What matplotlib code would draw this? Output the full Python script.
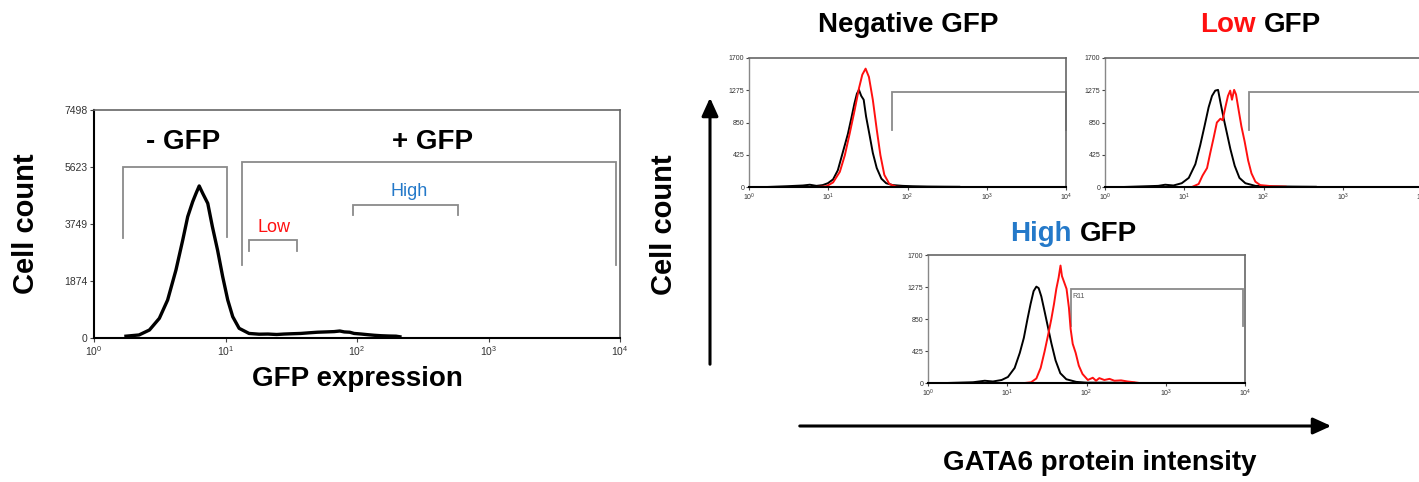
import matplotlib
matplotlib.use("Agg")
import matplotlib.pyplot as plt

plt.rcParams['font.family'] = ['Liberation Sans', 'DejaVu Sans']
plt.rcParams['mathtext.default'] = 'regular'

# GFP expression histogram (sorting panel)
gfp_x = [1.75, 2.2, 2.64, 3.14, 3.63, 4.2, 4.73, 5.16, 5.63, 5.97, 6.31, 6.71, 7.33, 7.95,
         8.7, 9.52, 10.4, 11.35, 12.7, 15.1, 18, 21, 24.5, 27.9, 32, 37.4, 43, 50, 58, 67,
         74, 80, 88, 95, 108, 120, 135, 152, 175, 198, 212]
gfp_y = [60, 100, 263, 647, 1250, 2236, 3222, 3990, 4483, 4757, 5000, 4757, 4428, 3660,
         2893, 2016, 1250, 700, 318, 150, 125, 130, 115, 130, 140, 150, 170, 190, 200, 210,
         230, 200, 190, 150, 130, 110, 90, 75, 65, 60, 40]
gfp_ticks = [0, 1874, 3749, 5623, 7498]

# sort gates: (x0, x1, top, left drop, right drop)
gate_neg = (1.67, 10.2, 5615, 3280, 3320)
gate_pos = (13.3, 9300, 5800, 2400, 2400)
gate_low = (15.2, 35, 3230, 2870, 2870)
gate_high = (93, 585, 4380, 4060, 4060)

# GATA6 intensity histograms, black = control, red = sorted population
neg_ctrl_x = [1.67, 2.98, 4.8, 5.85, 7.1, 8.5, 9.9, 11.5, 13.2, 15.2, 17.7, 19.5, 21.4, 23,
              24.4, 26.1, 28, 30, 33, 36.5, 40.9, 46.8, 53.8, 65, 87, 117, 180, 300, 450]
neg_ctrl_y = [0, 10, 20, 30, 15, 25, 50, 100, 220, 450, 700, 900, 1100, 1230,
              1280, 1200, 1150, 930, 700, 450, 250, 110, 50, 25, 15, 10, 6, 4, 3]
neg_gfp_x = [7.1, 9.5, 11.5, 14, 16.2, 18.6, 21.4, 24.4, 26.9, 29.6, 32.6, 36.5, 41, 45.5,
             51, 59, 72, 87]
neg_gfp_y = [0, 10, 60, 200, 420, 700, 1000, 1300, 1480, 1560, 1450, 1150, 750, 420,
             160, 40, 5, 0]

low_ctrl_x = [1.7, 2.4, 4.7, 5.75, 7.3, 9.3, 11.4, 13.8, 15.9, 18, 20.3, 22.4, 24.6, 26.7,
              28.8, 31.5, 34.7, 38.2, 43.3, 49.7, 59, 79, 130, 250, 457]
low_ctrl_y = [0, 5, 15, 30, 20, 50, 120, 300, 550, 800, 1050, 1200, 1270, 1280,
              1100, 900, 700, 500, 280, 120, 50, 15, 8, 5, 3]
low_gfp_x = [12.5, 15.2, 17, 19.4, 21.3, 23.5, 25.8, 28.6, 30.5, 33, 35.6, 38, 40, 42.6,
             45, 48.8, 52.6, 57.8, 64, 70.5, 79, 91, 129, 190]
low_gfp_y = [0, 40, 150, 250, 450, 650, 850, 900, 880, 1050, 1200, 1270, 1150, 1280,
             1220, 1000, 800, 600, 350, 180, 70, 25, 10, 5]

high_ctrl_x = [1.72, 3.7, 5.2, 6.6, 8.5, 10.2, 12.4, 14.4, 16.2, 18, 19.7, 21.5, 23.3, 24.9,
               26.9, 29.6, 32.5, 36, 40.7, 46.7, 55.6, 74, 99, 200, 400]
high_ctrl_y = [0, 10, 30, 20, 40, 80, 200, 400, 600, 850, 1050, 1220, 1280, 1260,
               1150, 950, 750, 530, 300, 130, 50, 15, 5, 4, 2]
high_gfp_x = [16.6, 20, 23.3, 26.4, 29.6, 32.5, 36, 38.9, 41.6, 44.5, 47, 49, 52.6, 56,
              60, 63, 67, 73, 80, 89, 104, 120, 132, 145, 168, 195, 225, 273, 330, 400, 465]
high_gfp_y = [0, 10, 60, 200, 420, 620, 850, 1050, 1250, 1400, 1560, 1420, 1330, 1250,
              1000, 720, 520, 400, 230, 120, 40, 70, 30, 65, 40, 55, 30, 35, 20, 10, 0]

gata_ticks = [0, 425, 850, 1275, 1700]
decades = [1, 10, 100, 1000, 10000]
decade_labels = ['$10^{%d}$' % i for i in range(5)]

RED = '#ff1010'
BLUE = '#2479c9'
GATE = '#8a8a8a'

W, H = 1419, 482
fig = plt.figure(figsize=(W / 100, H / 100), dpi=100)


def px_axes(x0, x1, y0, y1):
    # axes box given in pixel coordinates (top-left origin)
    return fig.add_axes([x0 / W, (H - y1) / H, (x1 - x0) / W, (y1 - y0) / H])


def gate(ax, g):
    x0, x1, top, d0, d1 = g
    ax.plot([x0, x0, x1, x1], [d0, top, top, d1], color=GATE, lw=1.3,
            clip_on=False, solid_joinstyle='miter')


def style_axes(ax, yticks, fs, ticklen, dark_frame):
    ax.set_xscale('log')
    ax.set_xlim(1, 10000)
    ax.set_ylim(0, yticks[-1])
    ax.set_xticks(decades)
    ax.set_xticklabels(decade_labels)
    ax.minorticks_off()
    ax.set_yticks(yticks)
    ax.set_yticklabels([str(t) for t in yticks])
    ax.tick_params(labelsize=fs, length=ticklen, width=0.8, pad=1.5,
                   colors='#444444', labelcolor='#333333')
    for s in ['top', 'right']:
        ax.spines[s].set_color('#666666')
        ax.spines[s].set_linewidth(1.2)
    ax.spines['left'].set_color('black' if dark_frame else '#888888')
    ax.spines['bottom'].set_color('black')
    ax.spines['left'].set_linewidth(1.5 if dark_frame else 1.0)
    ax.spines['bottom'].set_linewidth(1.5)


# left panel: GFP sorting
ax = px_axes(94, 620, 110, 338)
ax.plot(gfp_x, gfp_y, color='black', lw=2.4)
style_axes(ax, gfp_ticks, 7.5, 3, True)
for g in [gate_neg, gate_pos, gate_low, gate_high]:
    gate(ax, g)
ax.text(4.8, 6440, '- GFP', fontsize=20, fontweight='bold', ha='center', va='center')
ax.text(377, 6440, '+ GFP', fontsize=20, fontweight='bold', ha='center', va='center')
ax.text(23.4, 3650, 'Low', fontsize=13, color=RED, ha='center', va='center')
ax.text(250, 4830, 'High', fontsize=13, color=BLUE, ha='center', va='center')
ax.set_xlabel('GFP expression', fontsize=20, fontweight='bold', labelpad=6)
ax.set_ylabel('Cell count', fontsize=21, fontweight='bold', labelpad=18)

# right panels: GATA6 intensity
panels = [
    ((749, 1066, 58, 187), neg_ctrl_x, neg_ctrl_y, neg_gfp_x, neg_gfp_y, (63, 10000, 1252, 751, 751)),
    ((1105, 1422, 58, 187), low_ctrl_x, low_ctrl_y, low_gfp_x, low_gfp_y, (66, 10000, 1252, 751, 751)),
    ((928, 1245, 255, 383), high_ctrl_x, high_ctrl_y, high_gfp_x, high_gfp_y, (63, 9300, 1248, 757, 757)),
]
for box, cx, cy, rx, ry, g in panels:
    pax = px_axes(*box)
    gate(pax, g)
    pax.plot(cx, cy, color='black', lw=1.4)
    pax.plot(rx, ry, color=RED, lw=1.4)
    style_axes(pax, gata_ticks, 5, 2, False)
    if box[2] == 255:
        pax.text(66, 1200, 'R11', fontsize=5, color='#555555', va='top')

# overlay in pixel coordinates for titles and arrows
ov = fig.add_axes([0, 0, 1, 1], zorder=-1)
ov.set_xlim(0, W)
ov.set_ylim(H, 0)
ov.axis('off')
ov.patch.set_alpha(0)

ov.text(908, 25, 'Negative GFP', fontsize=20, fontweight='bold', ha='center', va='center')
ov.text(1256, 25, 'Low', fontsize=20, fontweight='bold', color=RED, ha='right', va='center')
ov.text(1264, 25, 'GFP', fontsize=20, fontweight='bold', ha='left', va='center')
ov.text(1072, 234, 'High', fontsize=20, fontweight='bold', color=BLUE, ha='right', va='center')
ov.text(1080, 234, 'GFP', fontsize=20, fontweight='bold', ha='left', va='center')

ov.annotate('', xy=(710, 95), xytext=(710, 367),
            arrowprops=dict(arrowstyle='-|>,head_length=1.1,head_width=0.5', lw=2.2, color='black'))
ov.annotate('', xy=(1334, 426), xytext=(797, 426),
            arrowprops=dict(arrowstyle='-|>,head_length=1.1,head_width=0.5', lw=2.2, color='black'))
ov.text(664, 225, 'Cell count', fontsize=21, fontweight='bold', rotation=90,
        ha='center', va='center')
ov.text(1100, 463, 'GATA6 protein intensity', fontsize=20, fontweight='bold',
        ha='center', va='center')

fig.savefig('out.png', dpi=100)
